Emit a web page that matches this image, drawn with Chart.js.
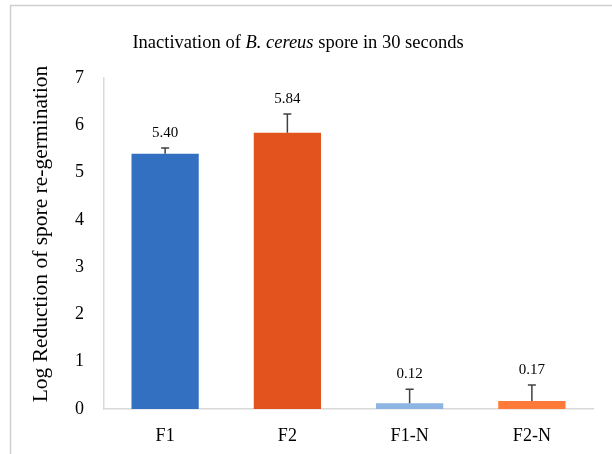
<!DOCTYPE html>
<html lang="en">
<head>
<meta charset="UTF-8">
<title>B. cereus spore</title>
<script src="https://cdn.jsdelivr.net/npm/chart.js"></script>
<style>
    * { padding: 0; margin: 0; }
    body { background: #ffffff; width: 612px; height: 454px; overflow: hidden; }
    #wrap { position: relative; width: 612px; height: 454px; }
</style>
</head>
<body>
<div id="wrap"><canvas id="barChart" width="612" height="454"></canvas></div>
<script>
const categories = ['F1', 'F2', 'F1-N', 'F2-N'];
const reduction = [5.40, 5.84, 0.12, 0.17];
const errors = [0.12, 0.40, 0.30, 0.34];
const yTicks = [0, 1, 2, 3, 4, 5, 6, 7];

const barColors = ['#3470c2', '#e2531e', '#8db4e2', '#ff7a38'];
const serif = '"Liberation Serif", "Times New Roman", serif';

// frame, title (italic part) and y title drawn by hand
const framePlugin = {
    id: 'frame',
    beforeDraw(chart) {
        const c = chart.ctx;
        c.save();
        c.strokeStyle = '#d0d0d0';
        c.lineWidth = 1.5;
        c.beginPath();
        c.moveTo(10.5, 454);
        c.lineTo(10.5, 5.5);
        c.lineTo(612, 5.5);
        c.stroke();

        const parts = [
            ['Inactivation of ', 'normal'],
            ['B. cereus', 'italic'],
            [' spore in 30 seconds', 'normal']
        ];
        let total = 0;
        parts.forEach(p => {
            c.font = p[1] + ' 18.5px ' + serif;
            total += c.measureText(p[0]).width;
        });
        let x = 298 - total / 2;
        c.fillStyle = '#000';
        c.textBaseline = 'middle';
        parts.forEach(p => {
            c.font = p[1] + ' 18.5px ' + serif;
            c.fillText(p[0], x, 43);
            x += c.measureText(p[0]).width;
        });

        c.translate(41, 234);
        c.rotate(-Math.PI / 2);
        c.font = '21.5px ' + serif;
        c.textAlign = 'center';
        c.fillText('Log Reduction of spore re-germination', 0, 0);
        c.restore();
    }
};

// error bars and value labels
const errorPlugin = {
    id: 'errorBars',
    afterDatasetsDraw(chart) {
        const c = chart.ctx;
        const meta = chart.getDatasetMeta(0);
        const y = chart.scales.y;
        c.save();
        meta.data.forEach((bar, i) => {
            const yTop = y.getPixelForValue(reduction[i] + errors[i]);
            const yBase = y.getPixelForValue(reduction[i]);
            c.strokeStyle = '#404040';
            c.lineWidth = 1.5;
            c.beginPath();
            c.moveTo(bar.x, yBase);
            c.lineTo(bar.x, yTop);
            c.moveTo(bar.x - 4, yTop);
            c.lineTo(bar.x + 4, yTop);
            c.stroke();
            c.fillStyle = '#000';
            c.font = '15px ' + serif;
            c.textAlign = 'center';
            c.textBaseline = 'middle';
            c.fillText(reduction[i].toFixed(2), bar.x, yTop - 15);
        });
        c.restore();
    }
};

let ctx = document.getElementById('barChart').getContext('2d');
let barChart = new Chart(ctx, {
    type: 'bar',
    data: {
        labels: categories,
        datasets: [{
            data: reduction,
            backgroundColor: barColors,
            borderWidth: 0,
            categoryPercentage: 1,
            barPercentage: 0.55
        }]
    },
    options: {
        responsive: false,
        animation: false,
        layout: { padding: { top: 78, right: 19, left: 0, bottom: 0 } },
        plugins: {
            legend: { display: false },
            tooltip: { enabled: false }
        },
        scales: {
            x: {
                grid: { display: false, drawTicks: false },
                border: { color: '#d9d9d9', width: 1.5 },
                ticks: { color: '#000', font: { family: serif, size: 18 }, padding: 16 },
                afterFit(scale) { scale.height = 45; }
            },
            y: {
                min: 0,
                max: 7,
                afterBuildTicks(scale) { scale.ticks = yTicks.map(v => ({ value: v })); },
                grid: { display: false, drawTicks: false },
                border: { color: '#d9d9d9', width: 1.5 },
                ticks: { color: '#000', font: { family: serif, size: 18 }, padding: 20 },
                afterFit(scale) { scale.width = 104; }
            }
        }
    },
    plugins: [framePlugin, errorPlugin]
});
</script>
</body>
</html>
